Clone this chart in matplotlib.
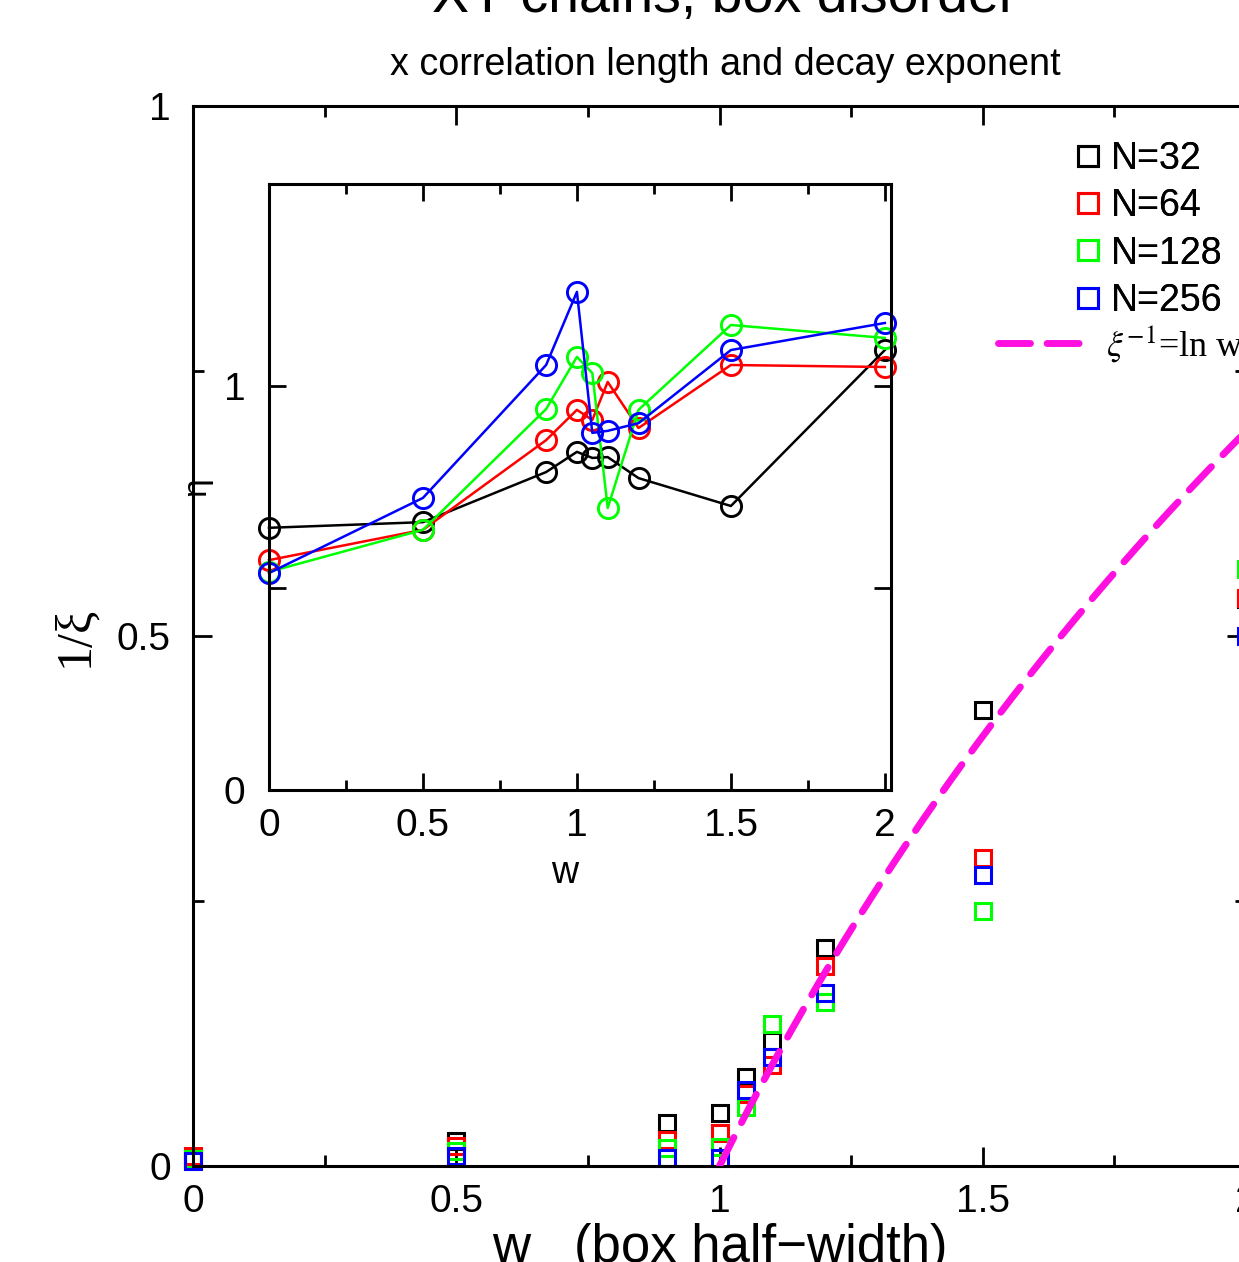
import numpy as np
import matplotlib
matplotlib.use('Agg')
import matplotlib.pyplot as plt
from matplotlib.ticker import MultipleLocator

plt.rcParams['font.family'] = ['Liberation Sans', 'DejaVu Sans']
plt.rcParams['mathtext.fontset'] = 'stix'

# disorder half-width w
w_vals = [0, 0.5, 0.9, 1.0, 1.05, 1.1, 1.2, 1.5, 2.0]

# 1/xi (main panel)
inv_xi = {
    'N=32':  [0.006, 0.024, 0.041, 0.050, 0.084, 0.118, 0.206, 0.430, 0.535],
    'N=64':  [0.009, 0.019, 0.025, 0.031, 0.068, 0.095, 0.189, 0.291, 0.536],
    'N=128': [0.007, 0.014, 0.017, 0.018, 0.056, 0.134, 0.155, 0.241, 0.563],
    'N=256': [0.005, 0.009, 0.008, 0.008, 0.072, 0.103, 0.163, 0.275, 0.500],
}

# decay exponent eta (inset)
eta = {
    'N=32':  [0.649, 0.663, 0.787, 0.837, 0.822, 0.824, 0.772, 0.703, 1.089],
    'N=64':  [0.569, 0.644, 0.866, 0.941, 0.916, 1.010, 0.896, 1.052, 1.047],
    'N=128': [0.540, 0.644, 0.943, 1.072, 1.032, 0.698, 0.941, 1.151, 1.119],
    'N=256': [0.537, 0.723, 1.052, 1.233, 0.884, 0.889, 0.908, 1.089, 1.156],
}

colors = {'N=32': 'black', 'N=64': '#ff0000', 'N=128': '#00ff00', 'N=256': '#0000ff'}

W, H = 1239, 1262
fig = plt.figure(figsize=(W / 100, H / 100), dpi=100)

# main axes (right edge runs past the figure, as in the reference)
ax = fig.add_axes([193 / W, 96 / H, 1053 / W, 1060 / H])
sq_handles = []
for name, vals in inv_xi.items():
    h, = ax.plot(w_vals, vals, ls='none', marker='s', ms=12, mfc='none',
                 mec=colors[name], mew=2.2, label=name, clip_on=False)
    sq_handles.append(h)

w_line = np.linspace(1.0, 2.0, 200)
ln_h, = ax.plot(w_line, np.log(w_line), color='#ff10e0', lw=5,
                dashes=(4.6, 2.4), dash_capstyle='round', zorder=5,
                label=r'$\xi^{-1}$=ln w')

ax.set_xlim(0, 2)
ax.set_ylim(0, 1)
ax.set_xticks([0, 0.5, 1, 1.5, 2], labels=['0', '0.5', '1', '1.5', '2'])
ax.xaxis.set_minor_locator(MultipleLocator(0.25))
ax.set_yticks([0, 0.5, 1], labels=['0', '0.5', '1'])
ax.yaxis.set_minor_locator(MultipleLocator(0.25))
ax.tick_params(which='both', direction='in', top=True, right=True, width=2)
ax.tick_params(which='major', length=14, labelsize=28)
ax.tick_params(axis='x', which='major', pad=13)
ax.tick_params(axis='y', which='major', pad=16)
ax.tick_params(which='minor', length=8)
for s in ax.spines.values():
    s.set_linewidth(2.2)

ax.set_ylabel('1/\u03be', fontsize=36, family='Liberation Serif', va='center')
ax.yaxis.set_label_coords(-0.112, 0.5)
ax.set_xlabel('w   (box half\u2212width)', fontsize=38, va='baseline')
ax.xaxis.set_label_coords(0.5, -0.091)

fig.text(725 / W, 1 - 12 / H, 'XY chains, box disorder', fontsize=40,
         ha='center', va='baseline')
fig.text(725 / W, 1 - 65 / H, 'x correlation length and decay exponent',
         fontsize=27.2, ha='center', va='center')

leg1 = fig.legend(handles=sq_handles, loc='upper left',
                  bbox_to_anchor=(1077 / W, 1 - 141 / H), frameon=False,
                  fontsize=27, handlelength=0.6, handletextpad=0.29,
                  labelspacing=0.3, borderpad=0, borderaxespad=0,
                  markerscale=1.2)
fig.add_artist(leg1)
fig.legend(handles=[ln_h], loc='upper left',
           bbox_to_anchor=(998 / W, 1 - 323 / H), frameon=False,
           prop={'family': 'Liberation Serif', 'size': 26},
           handlelength=2.6, handletextpad=0.4, borderpad=0, borderaxespad=0)

# inset: decay exponent eta
axin = fig.add_axes([269 / W, (H - 790) / H, 622 / W, 606 / H])
for name, vals in eta.items():
    axin.plot(w_vals, vals, color=colors[name], lw=1.8, marker='o', ms=14.5,
              mfc='none', mec=colors[name], mew=2.1, clip_on=False)
axin.set_xlim(0, 2.02)
axin.set_ylim(0, 1.5)
axin.set_xticks([0, 0.5, 1, 1.5, 2], labels=['0', '0.5', '1', '1.5', '2'])
axin.xaxis.set_minor_locator(MultipleLocator(0.25))
axin.set_yticks([0, 0.5, 1, 1.5], labels=['0', '', '1', ''])
axin.tick_params(which='both', direction='in', top=True, right=True, width=2)
axin.tick_params(which='major', length=12, labelsize=28)
axin.tick_params(axis='x', which='major', pad=13)
axin.tick_params(axis='y', which='major', pad=17)
axin.tick_params(which='minor', length=7)
for s in axin.spines.values():
    s.set_linewidth(2.2)
axin.set_xlabel('w', fontsize=27, va='center')
axin.xaxis.set_label_coords(0.476, -0.137)
axin.set_ylabel('\u03b7', fontsize=24, va='center')
axin.yaxis.set_label_coords(-0.116, 0.5)

fig.savefig('out.png', dpi=100)
plt.close(fig)
